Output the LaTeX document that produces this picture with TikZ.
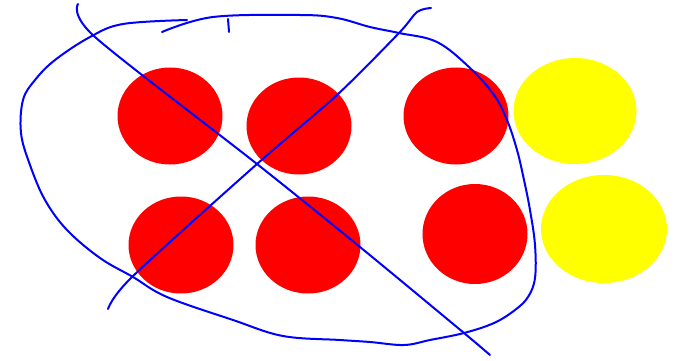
\documentclass[tikz,border=0pt]{standalone}
\usetikzlibrary{shapes.geometric}
\definecolor{ballyellow}{RGB}{255,255,0}
\begin{document}
\begin{tikzpicture}[x=1pt, y=-1pt,
    redball/.style={ellipse, fill=red, inner sep=0pt, minimum width=105pt, minimum height=97pt},
    yellowball/.style={ellipse, fill=ballyellow, inner sep=0pt, minimum width=123pt, minimum height=106pt},
    scribble/.style={blue, line width=2pt, line cap=round, line join=round}]
    \useasboundingbox (0,0) rectangle (677,361);
    \node[redball] (r1) at (170,116) {};
    \node[redball] (r2) at (299,126) {};
    \node[redball] (r3) at (456,116) {};
    \node[redball] (r4) at (181,245) {};
    \node[redball] (r5) at (308,245) {};
    \node[redball, minimum height=100pt] (r6) at (475,234) {};
    \node[yellowball] (y1) at (575,111) {};
    \node[yellowball, minimum width=126pt, minimum height=108pt] (y2) at (604,229) {};
    % loop round the red balls
    \draw[scribble] plot[smooth, tension=0.6] coordinates {(162,32) (213,17) (300,15) (337,18) (370,27)
        (399,33) (437,42) (470,68) (494,95) (507,120) (517,150) (524,180) (530,210) (535,245)
        (535,278) (528,297) (515,310) (494,323) (464,333) (430,340) (404,345) (370,342) (340,340)
        (283,336) (233,320) (167,297) (133,277) (100,258) (67,230) (45,200) (30,165) (21,133)
        (23,100) (35,80) (55,60) (90,37) (123,24) (187,20)};
    \draw[scribble] (228,19) -- (229,32);
    % crossing strokes
    \draw[scribble] plot[smooth] coordinates {(78,4) (95,37) (257,164) (360,247) (464,333) (490,355)};
    \draw[scribble] plot[smooth] coordinates {(108,309) (132,277) (257,164) (337,95) (399,33) (417,12) (431,8)};
\end{tikzpicture}
\end{document}
